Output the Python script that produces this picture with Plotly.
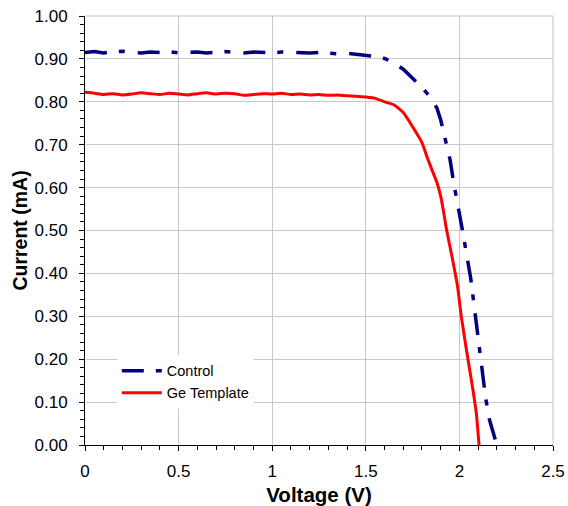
import plotly.graph_objects as go

control_v = [0.00, 0.05, 0.10, 0.15, 0.20, 0.25, 0.30, 0.35, 0.40, 0.45, 0.50, 0.55, 0.60, 0.65, 0.70,
             0.75, 0.80, 0.85, 0.90, 0.95, 1.00, 1.05, 1.10, 1.15, 1.20, 1.25, 1.30, 1.35, 1.40, 1.45,
             1.50, 1.55, 1.60, 1.65, 1.70, 1.75, 1.80, 1.85, 1.88, 1.90, 1.93, 1.95, 1.97, 2.00, 2.02,
             2.04, 2.06, 2.08, 2.10, 2.12, 2.14, 2.16, 2.18, 2.20]
control_i = [0.915, 0.917, 0.914, 0.916, 0.918, 0.915, 0.914, 0.916, 0.915, 0.917, 0.914, 0.915, 0.916, 0.914, 0.915,
             0.917, 0.915, 0.914, 0.916, 0.915, 0.914, 0.916, 0.915, 0.913, 0.914, 0.915, 0.913, 0.912, 0.913, 0.911,
             0.909, 0.906, 0.901, 0.891, 0.876, 0.856, 0.834, 0.808, 0.785, 0.758, 0.705, 0.665, 0.610, 0.545, 0.492,
             0.440, 0.390, 0.320, 0.250, 0.175, 0.110, 0.060, 0.028, 0.000]

ge_v = [0.00, 0.05, 0.10, 0.15, 0.20, 0.25, 0.30, 0.35, 0.40, 0.45, 0.50, 0.55, 0.60, 0.65, 0.70,
        0.75, 0.80, 0.85, 0.90, 0.95, 1.00, 1.05, 1.10, 1.15, 1.20, 1.25, 1.30, 1.35, 1.40, 1.45,
        1.50, 1.55, 1.60, 1.65, 1.70, 1.75, 1.80, 1.83, 1.86, 1.88, 1.90, 1.915, 1.93, 1.96, 1.99, 2.01,
        2.04, 2.07, 2.09, 2.105]
ge_i = [0.822, 0.820, 0.817, 0.819, 0.816, 0.818, 0.821, 0.819, 0.817, 0.820, 0.818, 0.816, 0.819, 0.821, 0.818,
        0.820, 0.819, 0.815, 0.817, 0.819, 0.818, 0.820, 0.817, 0.818, 0.816, 0.817, 0.815, 0.816, 0.814, 0.813,
        0.811, 0.808, 0.800, 0.793, 0.775, 0.742, 0.705, 0.668, 0.634, 0.612, 0.580, 0.545, 0.505, 0.440, 0.370, 0.300,
        0.215, 0.135, 0.075, 0.000]

x_ticks = [0, 0.5, 1, 1.5, 2, 2.5]
x_tick_labels = ["0", "0.5", "1", "1.5", "2", "2.5"]

fig = go.Figure()
fig.add_trace(go.Scatter(x=control_v, y=control_i, mode="lines", name="Control",
                         line=dict(color="#000080", width=3.5, dash="22px,12px,6px,13px")))
fig.add_trace(go.Scatter(x=ge_v, y=ge_i, mode="lines", name="Ge Template",
                         line=dict(color="#FF0000", width=3, shape="spline", smoothing=0.5)))

fig.update_layout(
    width=568, height=506,
    margin=dict(l=85, r=15, t=16, b=61, autoexpand=False),
    paper_bgcolor="white", plot_bgcolor="white",
    font=dict(family="Liberation Sans, Arial, sans-serif", color="black"),
    showlegend=True,
    legend=dict(x=0.068, y=0.21, xanchor="left", yanchor="top", bgcolor="white",
                font=dict(size=14.5), tracegroupgap=0, itemwidth=40),
    shapes=[
        dict(type="line", xref="paper", yref="paper", x0=0, x1=1, y0=1, y1=1,
             line=dict(color="#c0c0c0", width=1)),
        dict(type="line", xref="paper", yref="paper", x0=1, x1=1, y0=0, y1=1,
             line=dict(color="#c0c0c0", width=1)),
    ],
)
fig.update_xaxes(range=[0, 2.5], tickvals=x_ticks, ticktext=x_tick_labels, automargin=False,
                 showgrid=True, gridcolor="#c8c8c8", gridwidth=1,
                 showline=True, linecolor="black", linewidth=1,
                 ticks="outside", ticklen=5, tickcolor="black", ticklabelstandoff=6,
                 minor=dict(dtick=0.1, ticks="outside", ticklen=4, tickcolor="black", showgrid=False),
                 tickfont=dict(size=17), zeroline=False,
                 title=dict(text="<b>Voltage (V)</b>", font=dict(size=20.5), standoff=8))
fig.update_yaxes(range=[0, 1.0], dtick=0.1, tickformat=".2f", automargin=False,
                 showgrid=True, gridcolor="#c8c8c8", gridwidth=1,
                 showline=True, linecolor="black", linewidth=1,
                 ticks="outside", ticklen=5, tickcolor="black", ticklabelstandoff=8,
                 minor=dict(dtick=0.02, ticks="outside", ticklen=4, tickcolor="black", showgrid=False),
                 tickfont=dict(size=17), zeroline=False,
                 title=dict(text="<b>Current (mA)</b>", font=dict(size=19.5), standoff=1))

fig.write_html("out.html")
